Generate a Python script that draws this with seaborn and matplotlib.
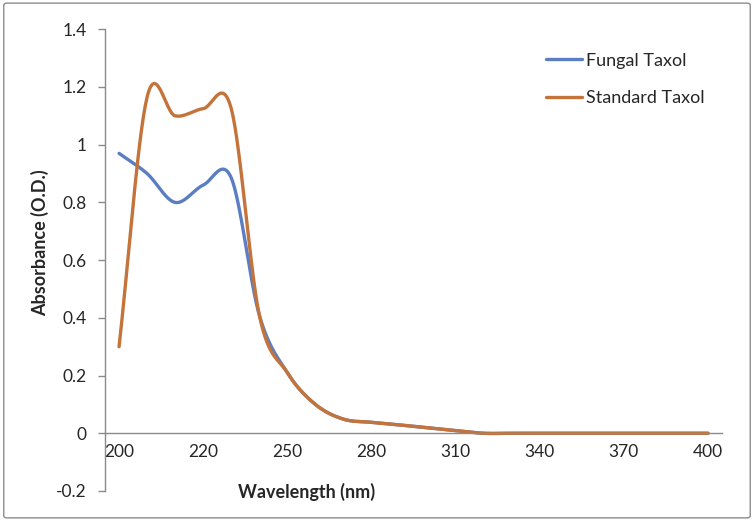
import numpy as np
import pandas as pd
import matplotlib
matplotlib.use("Agg")
import matplotlib.pyplot as plt
from matplotlib.patches import FancyBboxPatch
import seaborn as sns

# wavelength categories (nm), one per slot on the category axis
wavelengths = [200, 205, 210, 220, 230, 240, 250, 260, 270, 280, 290,
               300, 310, 320, 330, 340, 350, 360, 370, 380, 390, 400]
tick_labels = ["200", "220", "250", "280", "310", "340", "370", "400"]

fungal = [0.97, 0.90, 0.80, 0.86, 0.885, 0.41, 0.21, 0.10, 0.049, 0.038, 0.029,
          0.019, 0.009, 0, 0, 0, 0, 0, 0, 0, 0, 0]
standard = [0.30, 1.165, 1.10, 1.125, 1.125, 0.41, 0.21, 0.10, 0.049, 0.038, 0.029,
            0.019, 0.009, 0, 0, 0, 0, 0, 0, 0, 0, 0]


def smooth(vals, n=30):
    # Catmull-Rom style smoothing like Excel's "smoothed line"
    y = np.asarray(vals, dtype=float)
    m = np.zeros_like(y)
    m[1:-1] = (y[2:] - y[:-2]) / 2
    m[0] = y[1] - y[0]
    m[-1] = y[-1] - y[-2]
    xs, ys = [], []
    for i in range(len(y) - 1):
        t = np.linspace(0, 1, n, endpoint=False)
        h00 = 2 * t**3 - 3 * t**2 + 1
        h10 = t**3 - 2 * t**2 + t
        h01 = -2 * t**3 + 3 * t**2
        h11 = t**3 - t**2
        xs.append(i + t)
        ys.append(h00 * y[i] + h10 * m[i] + h01 * y[i + 1] + h11 * m[i + 1])
    xs.append([len(y) - 1])
    ys.append([y[-1]])
    return np.concatenate(xs), np.concatenate(ys)


frames = []
for name, vals in [("Fungal Taxol", fungal), ("Standard Taxol", standard)]:
    sx, sy = smooth(vals)
    frames.append(pd.DataFrame({"pos": sx, "Absorbance": sy, "Sample": name}))
df = pd.concat(frames, ignore_index=True)

sns.set_theme(style="white")
plt.rcParams["font.family"] = ["Lato", "DejaVu Sans"]

fig = plt.figure(figsize=(7.54, 5.21), dpi=100)
ax = fig.add_axes([0.1393, 0.0576, 0.8183, 0.8862])

sns.lineplot(data=df, x="pos", y="Absorbance", hue="Sample",
             palette={"Fungal Taxol": "#5B7EC2", "Standard Taxol": "#C4733A"},
             linewidth=2.4, estimator=None, sort=False, ax=ax)

ax.set_xlim(-0.5, len(wavelengths) - 0.5)
ax.set_ylim(-0.2, 1.4)

# tick marks between categories, labels on every third category
ax.set_xticks(np.arange(-0.5, len(wavelengths), 1.0))
ax.set_xticklabels([])
lab_pos = [i for i, w in enumerate(wavelengths) if str(w) in tick_labels]
ax.set_xticks(lab_pos, minor=True)
ax.set_xticklabels(tick_labels, minor=True)
ax.tick_params(axis="x", which="major", length=5, width=1, color="#8a8a8a", direction="out")
ax.tick_params(axis="x", which="minor", length=0, pad=8, labelsize=12.5)

yt = np.round(np.arange(-0.2, 1.41, 0.2), 1)
ax.set_yticks(yt)
ax.set_yticklabels([f"{v:g}" for v in yt])
ax.tick_params(axis="y", length=5, width=1, color="#8a8a8a", direction="out",
               pad=8, labelsize=12.5, left=True)

for s in ["top", "right"]:
    ax.spines[s].set_visible(False)
ax.spines["bottom"].set_position(("data", 0))
for s in ["left", "bottom"]:
    ax.spines[s].set_color("#8a8a8a")
    ax.spines[s].set_linewidth(1)

ax.set_xlabel("")
ax.set_ylabel("")
fig.text(0.406, 0.056, "Wavelength (nm)", ha="center", va="center",
         fontsize=13, fontweight="bold")
fig.text(0.053, 0.535, "Absorbance (O.D.)", ha="center", va="center",
         rotation=90, fontsize=13, fontweight="bold")

leg = ax.legend(loc="upper left", bbox_to_anchor=(0.703, 0.93),
                bbox_transform=fig.transFigure, frameon=False,
                fontsize=13, handlelength=2.0, handletextpad=0.2,
                labelspacing=1.2)
for line in leg.get_lines():
    line.set_linewidth(2.4)

fig.patches.append(FancyBboxPatch((0.005, 0.006), 0.99, 0.988,
                                  boxstyle="round,pad=0,rounding_size=0.004",
                                  transform=fig.transFigure, fill=False,
                                  ec="#8c8c8c", lw=1))

fig.savefig("out.png", dpi=100)
